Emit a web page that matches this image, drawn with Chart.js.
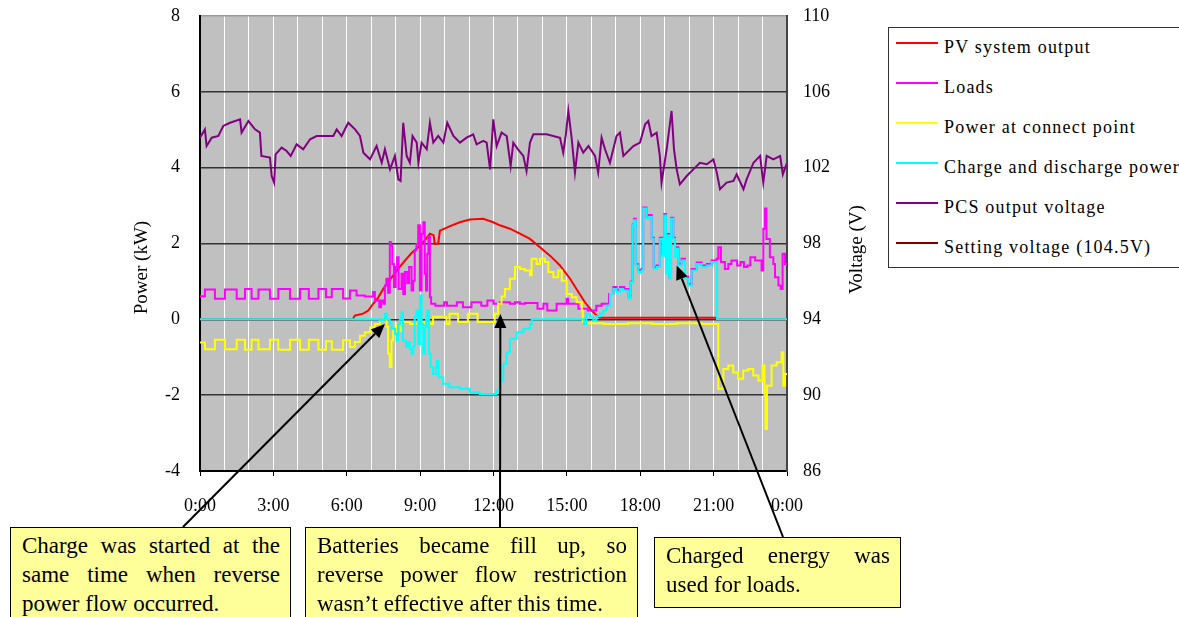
<!DOCTYPE html>
<html>
<head>
<meta charset="utf-8">
<title>PV system, loads and battery operation</title>
<script src="https://cdn.jsdelivr.net/npm/chart.js@4.4.0/dist/chart.umd.min.js"></script>
<style>
    html, body { margin: 0; padding: 0; background: #fff; overflow: hidden; }
    #wrap { position: relative; width: 1179px; height: 617px; overflow: hidden; }
    #chart { position: absolute; left: 0; top: 0; }
    #legend {
        position: absolute; left: 888px; top: 27px; width: 320px; height: 241px;
        border: 1.5px solid #333; box-sizing: border-box; background: #fff;
        font: 18px "Liberation Serif", "Times New Roman", serif; letter-spacing: 1.2px;
    }
    #legend .row { position: relative; height: 40px; }
    #legend .swatch { position: absolute; left: 7px; top: 14px; width: 42px; height: 2px; }
    #legend .name { position: absolute; left: 55px; top: 9px; white-space: nowrap; }
    .note {
        position: absolute; background: #ffff99; border: 1.5px solid #000; box-sizing: border-box;
        font: 23px/29px "Liberation Serif", "Times New Roman", serif; padding: 3px 10px 0 11px;
    }
    .note div { text-align: justify; text-align-last: justify; }
    .note div.last { text-align-last: left; }
</style>
</head>
<body>
<div id="wrap">
    <canvas id="chart" width="1179" height="617"></canvas>
    <div id="legend"></div>
    <div class="note" style="left:10px; top:527px; width:281px; height:100px;">
        <div>Charge was started at the</div>
        <div>same time when reverse</div>
        <div class="last">power flow occurred.</div>
    </div>
    <div class="note" style="left:305px; top:527px; width:333px; height:100px;">
        <div>Batteries became fill up, so</div>
        <div>reverse power flow restriction</div>
        <div class="last">wasn’t effective after this time.</div>
    </div>
    <div class="note" style="left:654px; top:537px; width:247px; height:71px;">
        <div>Charged energy was</div>
        <div class="last">used for loads.</div>
    </div>
</div>
<script>
// Labels of the time axis (one every 3 hours)
const timeTicks = ['0:00', '3:00', '6:00', '9:00', '12:00', '15:00', '18:00', '21:00', '0:00'];

// Series names and colours, in legend order
const seriesNames = ['PV system output', 'Loads', 'Power at connect point',
    'Charge and discharge power', 'PCS output voltage', 'Setting voltage (104.5V)'];
const seriesColors = ['#ff0000', '#ff00ff', '#ffff00', '#00ffff', '#800080', '#800000'];

// PV system output (kW)
const pvHours = [0, 6.25, 6.33, 6.67, 6.88, 7.08, 7.29, 7.49, 7.69, 7.9, 8.1, 8.38, 8.65, 8.92, 9.19,
    9.4, 9.55, 9.6, 9.74, 9.81, 10.2, 10.62, 11.03, 11.58, 11.99, 12.26, 12.67, 13.08, 13.49, 13.9,
    14.31, 14.72, 15.13, 15.47, 15.74, 16.01, 16.22, 16.35, 21.12, 21.14, 24];
const pvKw = [0, 0, 0.1, 0.15, 0.23, 0.41, 0.58, 0.8, 0.98, 1.16, 1.33, 1.55, 1.75, 1.9, 2.08,
    2.26, 2.22, 1.99, 2.0, 2.34, 2.45, 2.56, 2.63, 2.65, 2.56, 2.48, 2.39, 2.26, 2.12, 1.9,
    1.68, 1.42, 1.07, 0.72, 0.45, 0.23, 0.1, 0.04, 0.04, 0, 0];

// Loads (kW)
const loadHours = [0, 0.2, 0.61, 1.02, 1.5, 1.84, 2.11, 2.39, 2.86, 3.2, 3.68, 4.09, 4.45, 4.84, 5.15,
    5.39, 5.85, 6.13, 6.4, 6.74, 7.08, 7.15, 7.33, 7.4, 7.49, 7.56, 7.62, 7.69, 7.76, 7.8,
    7.86, 7.93, 8.0, 8.06, 8.12, 8.24, 8.31, 8.38, 8.47, 8.55, 8.65, 8.72, 8.78, 8.85, 8.92,
    8.99, 9.06, 9.13, 9.19, 9.24, 9.29, 9.34, 9.4, 9.45, 9.62, 9.98, 10.1, 10.5, 10.75, 11.1,
    11.5, 11.75, 12.0, 12.26, 12.67, 12.88, 13.08, 13.29, 13.8, 14.04, 14.2, 14.58, 14.99, 15.05, 15.47,
    15.85, 16.2, 16.42, 16.72, 16.9, 17.03, 17.17, 17.35, 17.51, 17.61, 17.69, 17.74, 17.82, 17.92, 18.05,
    18.12, 18.26, 18.35, 18.47, 18.55, 18.67, 18.8, 18.91, 18.98, 19.05, 19.11, 19.19, 19.26, 19.35, 19.42,
    19.5, 19.56, 19.69, 19.83, 19.96, 20.1, 20.31, 20.51, 20.72, 20.92, 21.12, 21.19, 21.3, 21.46, 21.6,
    21.73, 21.96, 22.1, 22.24, 22.38, 22.5, 22.7, 22.96, 23.03, 23.1, 23.16, 23.3, 23.44, 23.51, 23.65,
    23.74, 23.82, 23.92, 24];
const loadKw = [0.61, 0.79, 0.54, 0.79, 0.54, 0.8, 0.54, 0.79, 0.54, 0.8, 0.54, 0.8, 0.54, 0.8, 0.58,
    0.8, 0.55, 0.76, 0.63, 0.6, 0.72, 0.5, 0.32, 0.5, 0.41, 0.89, 1.07, 0.7, 2.04, 1.95,
    1.46, 0.85, 1.38, 1.64, 0.8, 1.2, 0.67, 1.25, 0.95, 1.38, 0.76, 1.02, 1.82, 1.99, 2.48,
    0.76, 2.26, 2.56, 1.2, 0.76, 1.73, 2.17, 0.58, 0.41, 0.36, 0.45, 0.36, 0.45, 0.32, 0.45,
    0.36, 0.5, 0.41, 0.45, 0.41, 0.45, 0.41, 0.43, 0.28, 0.41, 0.23, 0.41, 0.54, 0.41, 0.28,
    0.23, 0.36, 0.41, 0.67, 0.85, 0.78, 0.85, 0.8, 0.6, 1.0, 2.5, 2.65, 1.45, 1.3, 1.33,
    2.95, 2.7, 2.75, 2.15, 1.38, 1.42, 2.15, 1.72, 2.78, 1.25, 2.25, 1.1, 2.68, 2.15, 1.68,
    1.9, 1.46, 1.6, 1.12, 0.93, 1.33, 1.5, 1.42, 1.46, 1.55, 1.6, 1.9, 1.51, 1.33, 1.46,
    1.55, 1.42, 1.51, 1.38, 1.42, 1.64, 1.55, 1.29, 2.39, 2.92, 2.12, 1.64, 1.46, 1.11, 0.89,
    0.8, 1.73, 1.46, 1.46];

// Power at connect point (kW)
const gridHours = [0, 0.2, 0.61, 1.02, 1.5, 1.84, 2.11, 2.39, 2.86, 3.2, 3.68, 4.09, 4.45, 4.84, 5.15,
    5.39, 5.85, 6.13, 6.33, 6.54, 6.74, 6.95, 7.15, 7.35, 7.49, 7.63, 7.69, 7.76, 7.83, 7.9,
    8.04, 8.2, 8.3, 8.6, 8.9, 9.2, 9.4, 9.53, 10.08, 10.2, 10.55, 10.95, 11.35, 12.05, 12.19,
    12.33, 12.47, 12.67, 12.88, 13.08, 13.29, 13.49, 13.56, 13.76, 13.9, 14.1, 14.24, 14.45, 14.65, 14.79,
    14.99, 15.2, 15.4, 15.61, 15.65, 15.8, 16.5, 17.5, 18.5, 19.5, 20.5, 21.19, 21.4, 21.6, 21.8,
    22.0, 22.21, 22.42, 22.62, 22.83, 23.0, 23.08, 23.12, 23.18, 23.37, 23.58, 23.78, 23.85, 23.92, 24];
const gridKw = [-0.61, -0.79, -0.54, -0.79, -0.54, -0.8, -0.54, -0.79, -0.54, -0.8, -0.54, -0.8, -0.54, -0.8, -0.58,
    -0.8, -0.55, -0.73, -0.6, -0.43, -0.34, -0.21, -0.12, -0.03, 0.0, -0.2, -0.91, -1.26, -0.56, -0.3,
    -0.12, -0.3, -0.07, -0.12, -0.07, -0.1, -0.12, 0.07, -0.12, 0.15, -0.07, 0.15, -0.07, 0.15, 0.41,
    0.6, 0.8, 1.07, 1.38, 1.33, 1.29, 1.16, 1.6, 1.46, 1.6, 1.51, 1.25, 1.11, 1.29, 1.02,
    0.67, 0.58, 0.45, 0.23, -0.07, -0.1, -0.12, -0.1, -0.12, -0.1, -0.12, -1.83, -1.31, -1.22, -1.4,
    -1.57, -1.35, -1.31, -1.48, -1.61, -1.22, -2.0, -2.89, -1.75, -1.22, -1.13, -0.87, -1.75, -1.44, -1.44];

// Charge and discharge power (kW)
const batteryHours = [0, 7.35, 7.49, 7.56, 7.63, 7.76, 7.83, 7.97, 8.04, 8.1, 8.17, 8.24, 8.3, 8.42, 8.5,
    8.58, 8.65, 8.72, 8.78, 8.85, 8.92, 8.99, 9.06, 9.13, 9.19, 9.24, 9.29, 9.36, 9.43, 9.53,
    9.64, 9.68, 9.75, 9.94, 10.2, 10.62, 11.03, 11.44, 11.85, 12.12, 12.26, 12.4, 12.53, 12.67, 12.95,
    13.22, 13.49, 13.56, 15.65, 15.7, 15.8, 15.95, 16.08, 16.2, 16.35, 16.49, 16.62, 16.76, 16.9, 17.03,
    17.17, 17.3, 17.45, 17.51, 17.61, 17.69, 17.74, 17.82, 17.92, 18.05, 18.12, 18.26, 18.35, 18.47, 18.55,
    18.67, 18.8, 18.91, 18.98, 19.05, 19.11, 19.19, 19.26, 19.35, 19.42, 19.5, 19.56, 19.69, 19.83, 19.96,
    20.1, 20.31, 20.51, 20.72, 20.92, 21.14, 24];
const batteryKw = [0, -0.03, 0.0, 0.15, 0.0, -0.1, -0.25, -0.38, -0.56, -0.12, 0.0, 0.19, -0.56, -0.73, -0.6,
    -0.78, -0.91, -0.7, 0.06, 0.23, -0.65, 0.63, -0.12, -0.91, -0.21, 0.0, 0.23, -0.91, -1.26, -1.44,
    -1.26, -1.09, -1.53, -1.7, -1.79, -1.83, -1.92, -1.97, -1.97, -1.88, -1.61, -1.17, -0.87, -0.51, -0.34,
    -0.25, -0.12, 0.0, 0.0, -0.12, 0.15, 0.05, -0.03, 0.08, 0.15, 0.23, 0.36, 0.67, 0.8, 0.72,
    0.8, 0.76, 0.75, 0.54, 0.98, 2.48, 2.61, 1.42, 1.24, 1.29, 2.92, 2.65, 2.7, 2.12, 1.33,
    1.38, 2.12, 1.68, 2.74, 1.2, 2.21, 1.07, 2.65, 2.12, 1.64, 1.86, 1.42, 1.55, 1.07, 0.89,
    1.29, 1.46, 1.38, 1.42, 1.51, 0.0, 0.0];

// PCS output voltage (V)
const voltHours = [0, 0.2, 0.27, 0.48, 0.75, 0.95, 1.23, 1.64, 1.7, 1.98,
    2.25, 2.45, 2.51, 2.86, 2.93, 3.03, 3.09, 3.34, 3.54, 3.71,
    3.95, 4.22, 4.5, 4.77, 5.45, 5.59, 5.79, 6.06, 6.34, 6.54,
    6.68, 6.95, 7.22, 7.43, 7.56, 7.77, 7.97, 8.11, 8.2, 8.31,
    8.45, 8.58, 8.69, 8.86, 8.93, 9.06, 9.27, 9.4, 9.54, 9.74,
    9.95, 10.11, 10.36, 10.63, 10.9, 11.17, 11.31, 11.58, 11.72, 11.86,
    11.99, 12.13, 12.33, 12.54, 12.7, 12.81, 13.0, 13.22, 13.35, 13.49,
    13.63, 14.17, 14.72, 14.85, 14.96, 15.06, 15.2, 15.33, 15.47, 15.67,
    15.88, 16.15, 16.28, 16.42, 16.56, 16.76, 17.03, 17.17, 17.31, 17.72,
    17.99, 18.2, 18.33, 18.46, 18.67, 18.8, 18.87, 19.08, 19.28, 19.38,
    19.49, 19.62, 19.9, 20.17, 20.44, 20.72, 20.99, 21.13, 21.26, 21.53,
    21.81, 21.94, 22.22, 22.35, 22.63, 22.9, 23.03, 23.17, 23.44, 23.72,
    23.83, 24.0];
const voltValues = [103.58, 104.02, 103.14, 103.58, 103.67, 104.2, 104.37, 104.55, 103.85, 104.46,
    104.02, 103.85, 102.62, 102.53, 101.56, 101.21, 102.7, 103.06, 102.88, 102.62,
    103.23, 102.97, 103.5, 103.67, 103.67, 104.02, 103.67, 104.37, 104.02, 103.67,
    102.79, 102.44, 103.14, 102.26, 102.97, 101.91, 102.62, 101.38, 101.3, 104.37,
    102.62, 102.26, 103.67, 103.32, 102.26, 103.32, 102.97, 104.37, 103.32, 103.67,
    103.32, 104.37, 103.67, 103.32, 103.58, 103.76, 103.23, 103.41, 103.32, 101.91,
    104.55, 103.14, 103.85, 103.67, 102.09, 103.32, 102.97, 102.62, 101.82, 103.32,
    103.76, 103.76, 103.58, 102.79, 103.76, 104.99, 103.5, 101.74, 103.32, 102.79,
    103.14, 102.62, 101.74, 103.58, 102.97, 102.26, 103.67, 103.85, 102.62, 103.14,
    103.32, 104.29, 104.46, 103.67, 103.85, 102.62, 101.21, 102.97, 104.99, 102.97,
    101.91, 101.12, 101.56, 101.91, 102.26, 102.18, 102.44, 101.74, 100.86, 101.21,
    101.3, 101.65, 100.86, 101.38, 102.26, 102.62, 101.21, 102.62, 102.44, 102.62,
    101.65, 102.26];

// Callout arrows: tip in data units, tail at the top edge of its text box (page pixels)
const calloutTipHours = [7.56, 12.28, 19.49];
const calloutTipKw = [-0.12, 0.14, 1.42];
const calloutTails = [[183, 527], [500, 527], [783, 537]];

// Pairs hours and values into points for a linear x axis
const toPoints = (hours, values) => hours.map((h, i) => ({ x: h, y: values[i] }));

// Grey plot background
const plotBackground = {
    id: 'plotBackground',
    beforeDraw(chart) {
        const { ctx, chartArea: a } = chart;
        ctx.save();
        ctx.fillStyle = '#c0c0c0';
        ctx.fillRect(a.left, a.top, a.right - a.left, a.bottom - a.top);
        ctx.restore();
    }
};

// Axis titles, both rotated to read bottom to top
const axisTitles = {
    id: 'axisTitles',
    afterDraw(chart) {
        const { ctx, chartArea: a } = chart;
        const put = (text, x, y) => {
            ctx.save();
            ctx.translate(x, y);
            ctx.rotate(-Math.PI / 2);
            ctx.font = '19px "Liberation Serif", "Times New Roman", serif';
            ctx.fillStyle = '#000';
            ctx.textAlign = 'center';
            ctx.textBaseline = 'middle';
            ctx.fillText(text, 0, 0);
            ctx.restore();
        };
        put('Power (kW)', chart.scales.y.left + 12, (a.top + a.bottom) / 2 + 24);
        put('Voltage (V)', chart.scales.y1.right - 14, (a.top + a.bottom) / 2 + 6);
    }
};

// Black arrows from the text boxes to the curves
const calloutArrows = {
    id: 'calloutArrows',
    afterDraw(chart) {
        const { ctx, scales } = chart;
        calloutTails.forEach(([sx, sy], i) => {
            const tx = scales.x.getPixelForValue(calloutTipHours[i]);
            const ty = scales.y.getPixelForValue(calloutTipKw[i]);
            const ang = Math.atan2(ty - sy, tx - sx);
            const len = 14, half = 6;
            const bx = tx - len * Math.cos(ang);
            const by = ty - len * Math.sin(ang);
            ctx.save();
            ctx.strokeStyle = '#000';
            ctx.fillStyle = '#000';
            ctx.lineWidth = 2;
            ctx.beginPath();
            ctx.moveTo(sx, sy);
            ctx.lineTo(bx, by);
            ctx.stroke();
            ctx.beginPath();
            ctx.moveTo(tx, ty);
            ctx.lineTo(bx + half * Math.sin(ang), by - half * Math.cos(ang));
            ctx.lineTo(bx - half * Math.sin(ang), by + half * Math.cos(ang));
            ctx.closePath();
            ctx.fill();
            ctx.restore();
        });
    }
};

Chart.defaults.font.family = '"Liberation Serif", "Times New Roman", serif';
Chart.defaults.font.size = 18;
Chart.defaults.color = '#000';

const line = (i, hours, values, extra) => Object.assign({
    label: seriesNames[i],
    data: toPoints(hours, values),
    borderColor: seriesColors[i],
    backgroundColor: seriesColors[i],
    borderWidth: 2,
    pointRadius: 0,
    fill: false,
    yAxisID: 'y'
}, extra);

const datasets = [
    line(0, pvHours, pvKw, { order: 5 }),
    line(1, loadHours, loadKw, { order: 4, stepped: true }),
    line(2, gridHours, gridKw, { order: 3, stepped: true }),
    line(3, batteryHours, batteryKw, { order: 2, stepped: true }),
    line(4, voltHours, voltValues, { order: 1, yAxisID: 'y1' }),
    line(5, [], [], { order: 6, yAxisID: 'y1' })
];

const chart = new Chart(document.getElementById('chart'), {
    type: 'line',
    data: { datasets },
    options: {
        responsive: false,
        animation: false,
        devicePixelRatio: 1,
        layout: { padding: { left: 130, right: 308, top: 16, bottom: 106 } },
        plugins: { legend: { display: false }, tooltip: { enabled: false } },
        scales: {
            x: {
                type: 'linear',
                min: 0,
                max: 24,
                afterFit: (s) => { s.height = 40; },
                ticks: {
                    stepSize: 1,
                    autoSkip: false,
                    maxRotation: 0,
                    padding: 19,
                    callback: (v) => (Math.round(v) % 3 === 0 ? timeTicks[Math.round(v) / 3] : '')
                },
                grid: {
                    color: (c) => (c.tick.value === 0 || c.tick.value === 24 ? 'rgba(0,0,0,0)' : '#ffffff'),
                    lineWidth: 1,
                    tickLength: 5,
                    tickColor: (c) => (Math.round(c.tick.value) % 3 === 0 ? '#000' : 'rgba(0,0,0,0)')
                },
                border: { color: '#000', width: 2 }
            },
            y: {
                position: 'left',
                min: -4,
                max: 8,
                afterFit: (s) => { s.width = 70; },
                ticks: { stepSize: 2, padding: 4 },
                grid: {
                    color: (c) => (c.tick.value === 8 ? '#9a9a9a' : '#333333'),
                    lineWidth: 1.5,
                    tickLength: 16,
                    tickColor: 'rgba(0,0,0,0)'
                },
                border: { color: '#000', width: 2 }
            },
            y1: {
                position: 'right',
                min: 86,
                max: 110,
                afterFit: (s) => { s.width = 84; },
                ticks: { stepSize: 4, padding: 4 },
                grid: { drawOnChartArea: false, tickLength: 12, tickColor: 'rgba(0,0,0,0)' },
                border: { color: '#444', width: 2 }
            }
        }
    },
    plugins: [plotBackground, axisTitles, calloutArrows]
});

// Legend box built from the datasets
const legendBox = document.getElementById('legend');
chart.data.datasets.forEach((ds) => {
    const row = document.createElement('div');
    row.className = 'row';
    row.innerHTML = `<span class="swatch" style="background:${ds.borderColor}"></span><span class="name">${ds.label}</span>`;
    legendBox.appendChild(row);
});
</script>
</body>
</html>
